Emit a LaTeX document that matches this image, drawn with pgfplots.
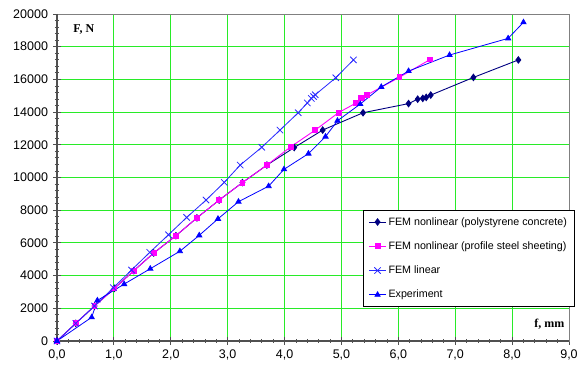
\documentclass[border=0pt]{standalone}
\usepackage{pgfplots}
\pgfplotsset{compat=1.18}
\usepackage{fontspec}
\setmainfont{Liberation Sans}
\newfontfamily\serifb{Liberation Serif}
\definecolor{gridgreen}{RGB}{40,235,40}
\definecolor{navyd}{RGB}{0,0,128}
\definecolor{magen}{RGB}{255,0,255}
\definecolor{blin}{RGB}{40,40,255}
\definecolor{bexp}{RGB}{0,0,255}
\definecolor{axgray}{RGB}{80,80,80}

\pgfplotstableread{
x y
0 0
0.33 1080
0.66 2140
1.01 3220
1.35 4300
1.70 5380
2.09 6440
2.46 7530
2.85 8620
3.26 9690
3.69 10760
4.17 11830
4.67 12900
5.38 13960
6.18 14520
6.34 14790
6.43 14840
6.49 14900
6.57 15040
7.32 16120
8.11 17190
}\polyst

\pgfplotstableread{
x y
0 0
0.33 1080
0.66 2140
1.01 3220
1.35 4300
1.70 5380
2.09 6440
2.46 7530
2.85 8620
3.26 9690
3.69 10760
4.11 11880
4.54 12900
4.95 13970
5.26 14560
5.34 14880
5.37 14900
5.45 15050
6.02 16130
6.56 17220
}\profile

\pgfplotstableread{
x y
0 0
0.33 1080
0.66 2140
0.99 3260
1.31 4340
1.63 5420
1.96 6500
2.28 7560
2.62 8620
2.94 9700
3.22 10760
3.60 11850
3.92 12900
4.24 13960
4.40 14560
4.47 14840
4.51 14950
4.54 15060
4.90 16100
5.21 17190
}\linear

\pgfplotstableread{
x y
0 0
0.61 1450
0.71 2480
1.18 3480
1.64 4420
2.16 5490
2.50 6460
2.83 7470
3.19 8520
3.72 9470
3.99 10500
4.42 11460
4.72 12500
4.93 13470
5.33 14490
5.70 15540
6.18 16510
6.90 17490
7.93 18510
8.20 19490
}\experiment

\begin{document}
\begin{tikzpicture}
\begin{axis}[
  at={(0,0)}, anchor=south west,
  scale only axis, width=512pt, height=327pt,
  xmin=0, xmax=9, ymin=0, ymax=20000,
  scaled y ticks=false, scaled x ticks=false,
  xtick={0,1,2,3,4,5,6,7,8,9},
  xticklabels={{0,0},{1,0},{2,0},{3,0},{4,0},{5,0},{6,0},{7,0},{8,0},{9,0}},
  ytick={0,2000,4000,6000,8000,10000,12000,14000,16000,18000,20000},
  yticklabels={0,2000,4000,6000,8000,10000,12000,14000,16000,18000,20000},
  minor x tick num=4, minor y tick num=4,
  grid=major,
  major grid style={color=gridgreen, line width=0.9pt},
  axis line style={draw=gray, line width=0.9pt},
  xtick pos=bottom, ytick pos=left,
  tick style={color=axgray, line width=0.8pt},
  major tick length=7pt, minor tick length=4pt, tick align=center,
  ticklabel style={font=\fontsize{12.5}{14}\selectfont},
  xticklabel style={yshift=-2pt},
  yticklabel style={xshift=-2pt},
  clip=false,
  legend cell align=left,
  legend style={at={(0.598,0.4006)}, anchor=north west, draw=black, line width=0.8pt,
    font=\fontsize{10.7}{12}\selectfont, row sep=11pt, inner sep=5pt},
]
\addplot[color=navyd, line width=0.9pt, mark=diamond*, mark size=3.2pt] table {\polyst};
\addlegendentry{FEM nonlinear (polystyrene concrete)}
\addplot[color=magen, line width=0.9pt, mark=square*, mark size=2.4pt] table {\profile};
\addlegendentry{FEM nonlinear (profile steel sheeting)}
\addplot[color=blin, line width=0.8pt, mark=x, mark size=4.5pt] table {\linear};
\addlegendentry{FEM linear}
\addplot[color=bexp, line width=0.8pt, mark=triangle*, mark size=3pt] table {\experiment};
\addlegendentry{Experiment}
\draw[axgray, line width=1.4pt] (rel axis cs:0,1) -- (rel axis cs:0,0) -- (rel axis cs:1,0);
\node[anchor=west, font=\serifb\bfseries\fontsize{12}{14}\selectfont] at (rel axis cs:0.025,0.954) {F, N};
\node[anchor=east, font=\serifb\bfseries\fontsize{12}{14}\selectfont] at (rel axis cs:0.998,0.052) {f, mm};
\end{axis}
\pgfresetboundingbox
\path (-57pt,-28pt) rectangle (521pt,341pt);
\end{tikzpicture}
\end{document}
